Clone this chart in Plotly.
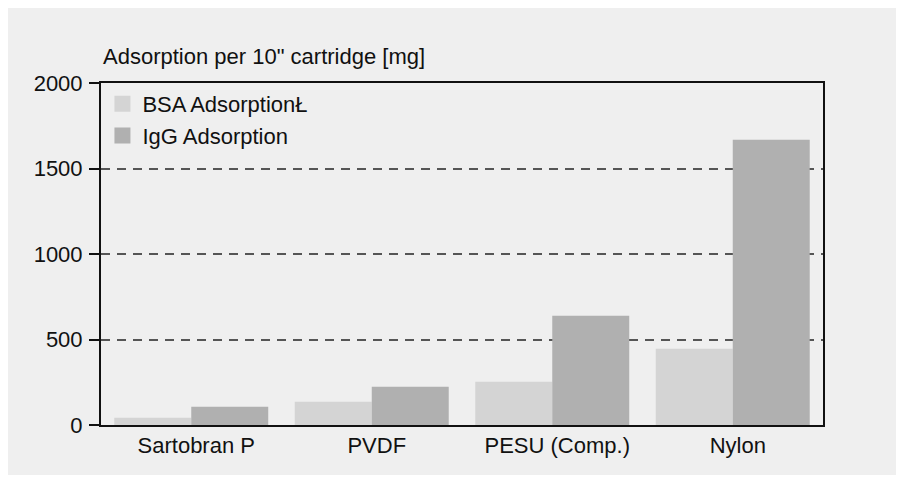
import plotly.graph_objects as go

categories = ["Sartobran P", "PVDF", "PESU (Comp.)", "Nylon"]
bsa_values = [43, 136, 253, 446]
igg_values = [107, 224, 639, 1668]
series_names = ["BSA AdsorptionŁ", "IgG Adsorption"]
y_ticks = [0, 500, 1000, 1500, 2000]
y_title = "Adsorption per 10\" cartridge [mg]"

BSA_COLOR = "#d4d4d4"
IGG_COLOR = "#b0b0b0"
FONT = "Liberation Sans, Arial, sans-serif"

fig = go.Figure()
fig.add_trace(go.Bar(x=categories, y=bsa_values, name=series_names[0],
                     marker=dict(color=BSA_COLOR, line=dict(width=0)), showlegend=False))
fig.add_trace(go.Bar(x=categories, y=igg_values, name=series_names[1],
                     marker=dict(color=IGG_COLOR, line=dict(width=0)), showlegend=False))
# legend entries with square swatches
for name, col in zip(series_names, [BSA_COLOR, IGG_COLOR]):
    fig.add_trace(go.Scatter(x=[None], y=[None], mode="markers", name=name,
                             marker=dict(symbol="square", size=19, color=col)))

fig.update_layout(
    width=888, height=467,
    margin=dict(l=93, r=73, t=75, b=50),
    paper_bgcolor="#efefef", plot_bgcolor="#efefef",
    barmode="group", bargap=0.147, bargroupgap=0,
    font=dict(family=FONT, size=22, color="#111111"),
    legend=dict(x=0.002, xanchor="left", y=1.0, yanchor="top",
                bgcolor="rgba(0,0,0,0)", borderwidth=0,
                font=dict(family=FONT, size=22, color="#111111"),
                tracegroupgap=0, itemsizing="trace"),
    annotations=[dict(text=y_title, xref="paper", yref="paper", x=0, y=1,
                      xanchor="left", yanchor="bottom", yshift=12, showarrow=False,
                      font=dict(family=FONT, size=22, color="#111111"))],
)
fig.update_xaxes(showline=True, linecolor="#111111", linewidth=2, mirror=True,
                 ticks="", showgrid=False, ticklabelshift=5,
                 tickfont=dict(size=22, color="#111111"))
fig.update_yaxes(range=[0, 2000], tickvals=y_ticks, showline=True, linecolor="#111111",
                 linewidth=2, mirror=True, ticks="outside", ticklen=10, tickwidth=2,
                 tickcolor="#111111", showgrid=True, gridcolor="#555555", gridwidth=2,
                 griddash="9px,7px", zeroline=False, ticklabelstandoff=2,
                 tickfont=dict(size=22, color="#111111"))

fig.write_html("out.html")
